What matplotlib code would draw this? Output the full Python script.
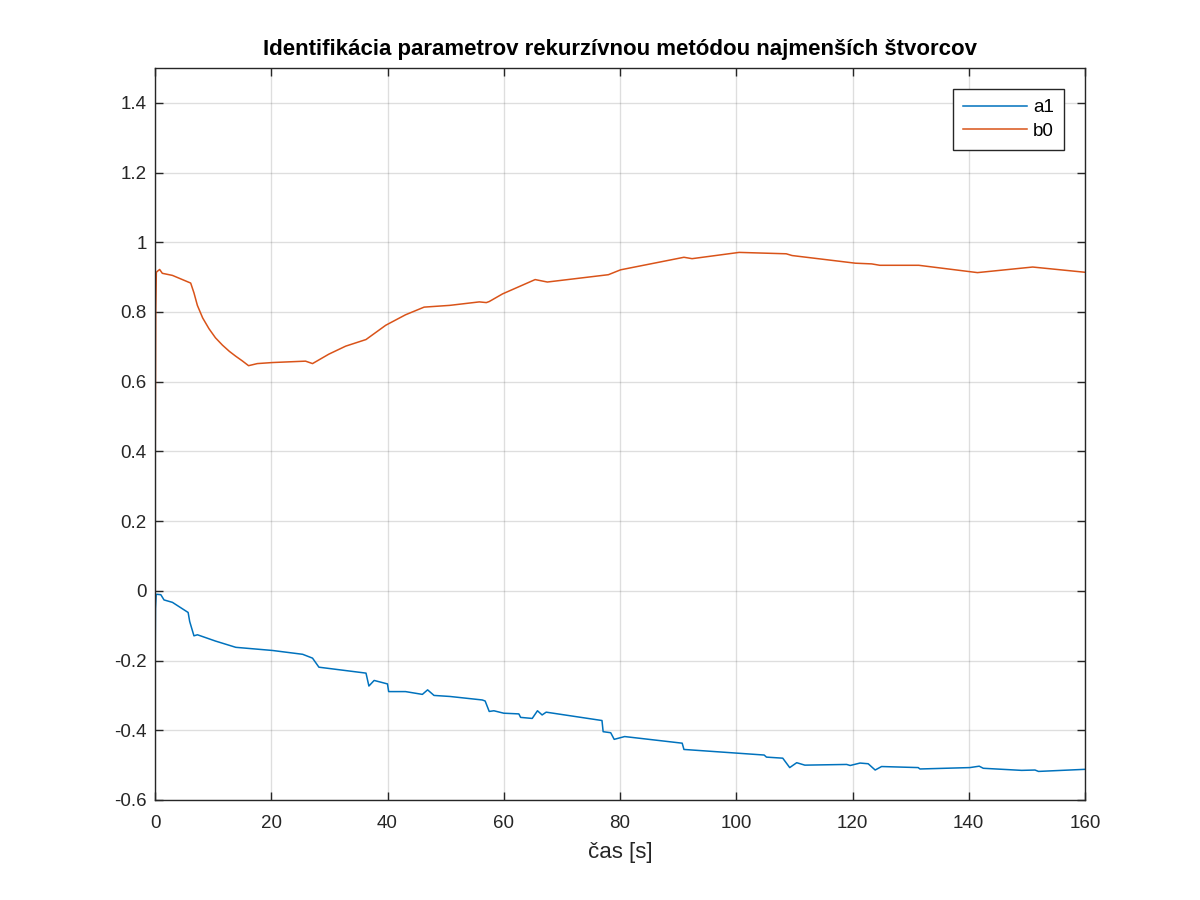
import matplotlib
matplotlib.use("Agg")
import matplotlib.pyplot as plt

plt.rcParams['font.family'] = ['Liberation Sans', 'DejaVu Sans']

# b0 estimate (time, value)
b0_t = [0, 0.05, 0.12, 0.23, 0.5, 0.8, 1.26, 3.0, 6.14, 6.7, 7.29, 8.2, 9.29, 10.4, 11.6,
        12.8, 13.9, 15.0, 16.1, 17.6,
        20.2, 25.9, 27.1, 29.9, 32.8, 36.3, 39.7, 43.1, 46.3, 50.7, 55.8, 57.0, 57.5, 59.8,
        65.4, 67.5, 78.0, 80.1, 91.0, 92.4, 100.5, 108.6, 109.6, 120.5, 123.3, 124.7,
        131.4, 141.5, 151.0, 160.0]
b0_v = [0.0, 0.45, 0.80, 0.914, 0.918, 0.922, 0.911, 0.905, 0.883, 0.855, 0.819, 0.783,
        0.752, 0.726, 0.705, 0.687, 0.673, 0.660, 0.646, 0.652, 0.655, 0.659, 0.652, 0.679,
        0.702, 0.721, 0.762, 0.792, 0.814, 0.819, 0.829, 0.827, 0.830, 0.852, 0.893, 0.886,
        0.907, 0.921, 0.957, 0.953, 0.971, 0.967, 0.962, 0.940, 0.938, 0.934, 0.934, 0.913,
        0.929, 0.914]

# a1 estimate (time, value)
a1_t = [0, 0.08, 0.2, 0.4, 1.0, 1.55, 3.0, 5.7, 5.97, 6.7, 7.3, 10.4, 13.9, 20.2, 25.4,
        27.1, 28.2, 36.3, 36.8, 37.7, 40.0, 40.2, 43.1, 46.0, 46.9, 48.0, 50.75, 56.3, 56.8,
        57.5, 58.3, 60.0, 62.6, 62.9, 64.9, 65.8, 66.6, 67.3, 76.9, 77.1, 78.4, 79.0, 80.8,
        90.7, 91.0, 91.9, 104.8, 105.2, 108.0, 109.2, 110.4, 111.8, 119.0, 119.6, 121.3,
        122.7, 123.9, 125.0, 131.3, 131.6, 140.2, 141.8, 142.5, 149.1, 151.4, 152.0, 160.0]
a1_v = [-0.26, -0.05, -0.01, -0.01, -0.011, -0.026, -0.033, -0.062, -0.088, -0.129, -0.126,
        -0.144, -0.162, -0.171, -0.182, -0.193, -0.219, -0.236, -0.273, -0.257, -0.267,
        -0.289, -0.289, -0.297, -0.284, -0.300, -0.303, -0.313, -0.316, -0.346, -0.344,
        -0.351, -0.353, -0.363, -0.366, -0.344, -0.356, -0.348, -0.372, -0.404, -0.407,
        -0.426, -0.418, -0.437, -0.455, -0.456, -0.471, -0.477, -0.480, -0.507, -0.493,
        -0.500, -0.498, -0.501, -0.494, -0.496, -0.514, -0.504, -0.507, -0.511, -0.507,
        -0.503, -0.509, -0.515, -0.514, -0.518, -0.512]

xticks = [0, 20, 40, 60, 80, 100, 120, 140, 160]
yticks = [-0.6, -0.4, -0.2, 0, 0.2, 0.4, 0.6, 0.8, 1, 1.2, 1.4]
ytick_labels = ['-0.6', '-0.4', '-0.2', '0', '0.2', '0.4', '0.6', '0.8', '1', '1.2', '1.4']

fig = plt.figure(figsize=(12, 9), dpi=100)
ax = fig.add_axes([155/1200, 100/900, 930/1200, 732/900])

ax.plot(a1_t, a1_v, color='#0072BD', lw=1.1, label='a1')
ax.plot(b0_t, b0_v, color='#D95319', lw=1.1, label='b0')

ax.set_xlim(0, 160)
ax.set_ylim(-0.6, 1.5)
ax.set_xticks(xticks)
ax.set_yticks(yticks)
ax.set_yticklabels(ytick_labels)
ax.grid(True, color='#262626', alpha=0.15, lw=1.0)
ax.set_axisbelow(True)
for s in ax.spines.values():
    s.set_color('#262626')
    s.set_linewidth(1.0)
ax.tick_params(direction='in', top=True, right=True, length=6, width=1.0,
               colors='#262626', labelsize=13.5)
ax.tick_params(axis='x', pad=11)
ax.tick_params(axis='y', pad=6)

ax.set_title('Identifikácia parametrov rekurzívnou metódou najmenších štvorcov',
             fontsize=16, fontweight='bold', color='black', pad=9)
ax.set_xlabel('čas [s]', fontsize=16, color='#262626', labelpad=7)

leg = ax.legend(loc='upper right', fontsize=13.5, fancybox=False, framealpha=1,
                edgecolor='#262626', borderaxespad=1.1, handlelength=3.4,
                handletextpad=0.35, borderpad=0.55, labelspacing=0.35)
leg.get_frame().set_linewidth(1.0)

fig.savefig('out.png', dpi=100)
